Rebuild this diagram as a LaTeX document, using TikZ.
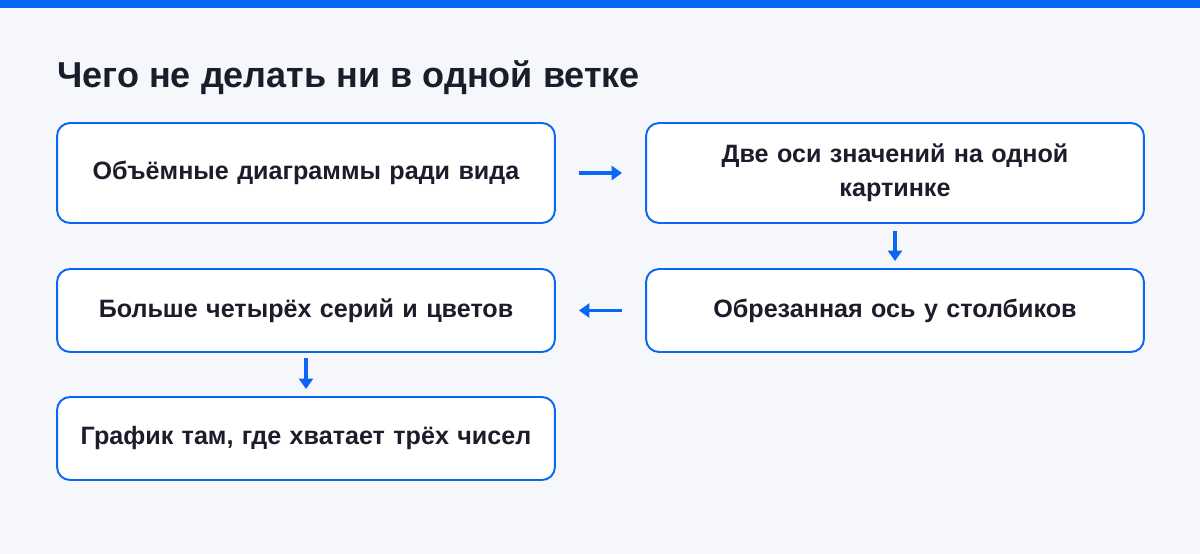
\documentclass[tikz,border=0pt]{standalone}
\usepackage{fontspec}
\setmainfont{Liberation Sans}
\usetikzlibrary{arrows.meta}
\usetikzlibrary{positioning}
\definecolor{bg}{HTML}{F5F7FB}
\definecolor{accent}{HTML}{0A66F5}
\definecolor{ink}{HTML}{1C1D2B}
\begin{document}
\begin{tikzpicture}[x=0.02cm,y=-0.02cm]
\tikzset{stage/.style={rectangle,rounded corners=0.26cm,draw=accent,line width=1.1pt,fill=white,minimum width=9.96cm,align=center,text width=9.6cm,font=\bfseries\fontsize{14.3}{19.5}\selectfont,text=ink},
flow/.style={-{Triangle[length=6pt,width=8pt]},accent,line width=2pt}}
\fill[bg] (0,0) rectangle (1200,554);
\fill[accent] (0,0) rectangle (1200,8);
\node[anchor=base west,font=\bfseries\fontsize{20.5}{24}\selectfont,text=ink,inner sep=0](title) at (57,88) {Чего не делать ни в одной ветке};
\node[stage,minimum height=2cm](a) at (306,173) {Объёмные диаграммы ради вида};
\node[stage,minimum height=2cm](b) at (895,173) {Две оси значений на одной\\картинке};
\node[stage,minimum height=1.66cm](c) at (895,310.5) {Обрезанная ось у столбиков};
\node[stage,minimum height=1.66cm](d) at (306,310.5) {Больше четырёх серий и цветов};
\node[stage,minimum height=1.66cm](e) at (306,438.5) {График там, где хватает трёх чисел};
\draw[flow,shorten <=0.46cm,shorten >=0.46cm](a) -- (b);
\draw[flow,shorten <=0.14cm,shorten >=0.14cm](b) -- (c);
\draw[flow,shorten <=0.46cm,shorten >=0.46cm](c) -- (d);
\draw[flow,shorten <=0.1cm,shorten >=0.14cm](d) -- (e);
\end{tikzpicture}
\end{document}
